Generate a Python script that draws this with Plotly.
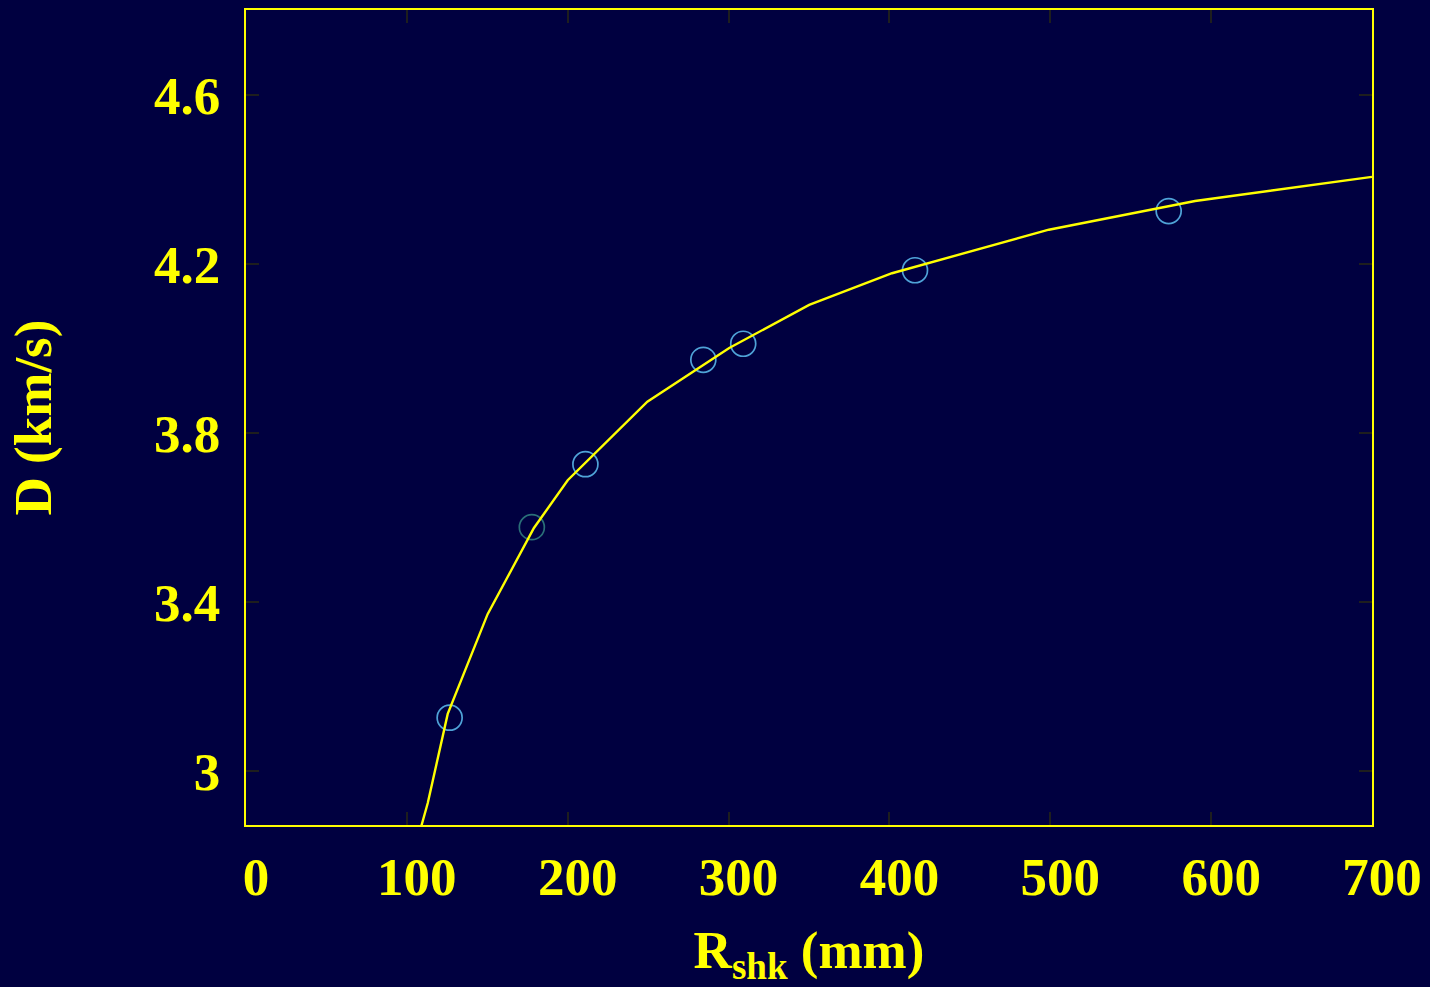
import plotly.graph_objects as go

# Measured detonation velocity vs. shock radius
r_meas = [126.6, 177.7, 211.0, 284.3, 309.1, 415.9, 573.6]
d_meas = [3.127, 3.578, 3.727, 3.974, 4.012, 4.186, 4.326]
meas_colors = ["#4fa3d8", "#2a6f78", "#4fa3d8", "#4fa3d8", "#4fa3d8", "#4fa3d8", "#4fa3d8"]

# Fitted curve
r_fit = [107.5, 113.0, 125.4, 150.2, 179.0, 200.0, 249.5, 300.4, 350.1, 401.6, 499.1, 590.0, 700.0]
d_fit = [2.850, 2.925, 3.136, 3.372, 3.576, 3.689, 3.875, 4.002, 4.104, 4.179, 4.282, 4.350, 4.407]

x_ticks = [0, 100, 200, 300, 400, 500, 600, 700]
y_ticks = [3.0, 3.4, 3.8, 4.2, 4.6]
y_tick_text = ["3", "3.4", "3.8", "4.2", "4.6"]

BG = "#000040"
YELLOW = "#ffff00"
FONT = "Liberation Serif, Times New Roman, serif"

fig = go.Figure()
fig.add_trace(go.Scatter(
    x=r_meas, y=d_meas, mode="markers",
    marker=dict(symbol="circle-open", size=25, color=meas_colors,
                line=dict(width=1.7, color=meas_colors)),
    showlegend=False,
))
fig.add_trace(go.Scatter(
    x=r_fit, y=d_fit, mode="lines",
    line=dict(color=YELLOW, width=2.4),
    showlegend=False,
))

axis_common = dict(
    showline=True, linecolor=YELLOW, linewidth=2.2, mirror="ticks",
    ticks="inside", ticklen=13, tickwidth=2, tickcolor="#1e1e1e",
    showgrid=False, zeroline=False,
    tickfont=dict(family=FONT, size=53, color=YELLOW, weight="bold"),
)

fig.update_xaxes(
    range=[0, 700], tickvals=x_ticks, ticklabelshift=10, ticklabelstandoff=4,
    title=dict(text="R<sub>shk</sub> (mm)", standoff=36,
               font=dict(family=FONT, size=53, color=YELLOW, weight="bold")),
    **axis_common,
)
fig.update_yaxes(
    range=[2.873, 4.802], tickvals=y_ticks, ticktext=y_tick_text,
    ticklabelstandoff=13,
    title=dict(text="D (km/s)", standoff=85,
               font=dict(family=FONT, size=53, color=YELLOW, weight="bold")),
    **axis_common,
)

fig.update_layout(
    width=1430, height=987,
    margin=dict(l=246, r=56, t=8, b=160),
    paper_bgcolor=BG, plot_bgcolor=BG,
)

fig.write_html("out.html")
